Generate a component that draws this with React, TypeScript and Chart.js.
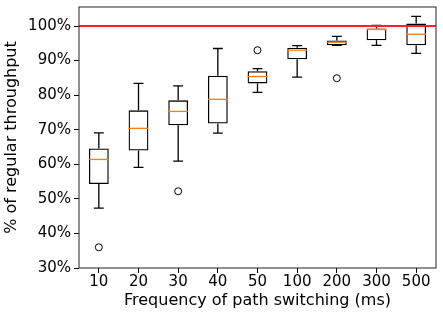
import React, { useEffect, useRef } from "react";
import { Chart, registerables } from "chart.js";

Chart.register(...registerables);

const categories = ["10", "20", "30", "40", "50", "100", "200", "300", "500"];
const whiskerLow = [47.3, 59.1, 60.9, 69.0, 80.8, 85.2, 94.4, 94.4, 92.1];
const q1 = [54.3, 64.0, 71.3, 71.8, 83.4, 90.4, 94.4, 95.9, 94.4];
const median = [61.4, 70.4, 75.3, 78.8, 85.4, 93.0, 95.3, 99.0, 97.6];
const q3 = [64.6, 75.6, 78.5, 85.6, 86.9, 93.7, 95.8, 99.3, 100.7];
const whiskerHigh = [69.1, 83.4, 82.7, 93.5, 87.7, 94.3, 97.0, 100.2, 102.8];
const outlierCats = ["10", "30", "50", "200"];
const outlierValues = [36.0, 52.2, 93.0, 84.9];
const yTicks = [30, 40, 50, 60, 70, 80, 90, 100];
const referenceLine = 100;

const boxPlugin = {
  id: "boxExtras",
  afterDatasetsDraw(chart: any) {
    const ctx = chart.ctx;
    const xs = chart.scales.x;
    const ys = chart.scales.y;
    const meta = chart.getDatasetMeta(0);
    const area = chart.chartArea;
    ctx.save();
    ctx.beginPath();
    ctx.rect(area.left, area.top, area.right - area.left, area.bottom - area.top);
    ctx.clip();
    for (let i = 0; i < categories.length; i++) {
      const bar = meta.data[i];
      const x = xs.getPixelForValue(i);
      const w = bar.width;
      const cap = w / 4;
      ctx.strokeStyle = "#000";
      ctx.lineWidth = 1.3;
      ctx.beginPath();
      ctx.moveTo(x, ys.getPixelForValue(q3[i]));
      ctx.lineTo(x, ys.getPixelForValue(whiskerHigh[i]));
      ctx.moveTo(x, ys.getPixelForValue(q1[i]));
      ctx.lineTo(x, ys.getPixelForValue(whiskerLow[i]));
      ctx.moveTo(x - cap, ys.getPixelForValue(whiskerHigh[i]));
      ctx.lineTo(x + cap, ys.getPixelForValue(whiskerHigh[i]));
      ctx.moveTo(x - cap, ys.getPixelForValue(whiskerLow[i]));
      ctx.lineTo(x + cap, ys.getPixelForValue(whiskerLow[i]));
      ctx.stroke();
      ctx.strokeStyle = "#ff7f0e";
      ctx.beginPath();
      ctx.moveTo(x - w / 2, ys.getPixelForValue(median[i]));
      ctx.lineTo(x + w / 2, ys.getPixelForValue(median[i]));
      ctx.stroke();
    }
    const yr = ys.getPixelForValue(referenceLine);
    ctx.strokeStyle = "#ff2020";
    ctx.lineWidth = 2;
    ctx.beginPath();
    ctx.moveTo(area.left, yr);
    ctx.lineTo(area.right, yr);
    ctx.stroke();
    ctx.restore();
    ctx.save();
    ctx.strokeStyle = "#222";
    ctx.lineWidth = 1;
    ctx.strokeRect(area.left, area.top, area.right - area.left, area.bottom - area.top);
    ctx.restore();
  },
};

export default function App() {
  const ref = useRef<HTMLCanvasElement>(null);
  useEffect(() => {
    if (!ref.current) return;
    Chart.defaults.font.family = "'DejaVu Sans'";
    Chart.defaults.color = "#000";
    const chart = new Chart(ref.current, {
      type: "bar",
      data: {
        labels: categories,
        datasets: [
          {
            type: "bar",
            data: categories.map((_, i) => [q1[i], q3[i]]) as any,
            backgroundColor: "rgba(0,0,0,0)",
            borderColor: "#000",
            borderWidth: 1.3,
            borderSkipped: false,
            barPercentage: 0.5,
            categoryPercentage: 1,
          } as any,
          {
            type: "line",
            data: outlierCats.map((c, i) => ({ x: c, y: outlierValues[i] })) as any,
            showLine: false,
            pointStyle: "circle",
            pointRadius: 3.5,
            pointBorderColor: "#000",
            pointBackgroundColor: "rgba(0,0,0,0)",
            pointBorderWidth: 1,
          } as any,
        ],
      },
      options: {
        animation: false,
        responsive: false,
        layout: { padding: { left: 2, right: 7, top: 7, bottom: 0 } },
        plugins: { legend: { display: false }, tooltip: { enabled: false } },
        scales: {
          x: {
            offset: true,
            grid: { display: true, drawOnChartArea: false, drawTicks: true, tickLength: 5, color: "#000", offset: false },
            border: { display: false },
            ticks: { font: { size: 15 }, padding: 0, maxRotation: 0, autoSkip: false },
            title: { display: true, text: "Frequency of path switching (ms)", font: { size: 16 }, padding: { top: 0, bottom: 6 } },
            afterFit(s: any) { s.height = 48; s.paddingLeft = 0; s.paddingRight = 0; },
          },
          y: {
            min: 30,
            max: 105.5,
            afterBuildTicks(s: any) { s.ticks = yTicks.map((v) => ({ value: v })); },
            grid: { display: true, drawOnChartArea: false, drawTicks: true, tickLength: 5, color: "#000" },
            border: { display: false },
            ticks: { font: { size: 15 }, padding: 3, callback: (v: any) => v + "%" },
            title: { display: true, text: "% of regular throughput", font: { size: 16 }, padding: { top: 0, bottom: 2 } },
            afterFit(s: any) { s.width = 77; s.paddingTop = 0; s.paddingBottom = 0; },
          },
        },
      },
      plugins: [boxPlugin],
    });
    return () => chart.destroy();
  }, []);
  return (
    <div style={{ position: "fixed", left: 0, top: 0, width: 443, height: 316, background: "#fff" }}>
      <canvas ref={ref} width={443} height={316} />
    </div>
  );
}
